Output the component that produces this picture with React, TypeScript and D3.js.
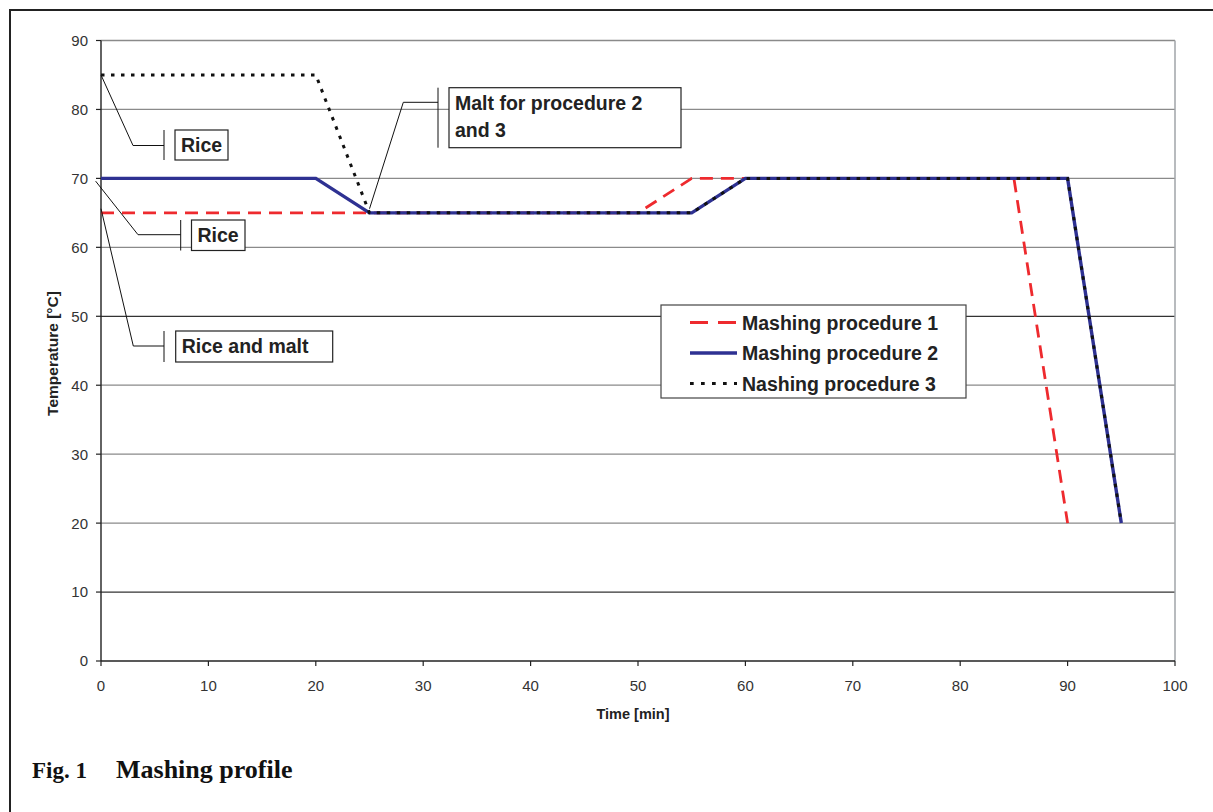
import React from "react";
import * as d3 from "d3";

const time1 = [0, 25, 50, 55, 60, 85, 90];
const temp1 = [65, 65, 65, 70, 70, 70, 20];
const time2 = [0, 20, 25, 55, 60, 90, 95];
const temp2 = [70, 70, 65, 65, 70, 70, 20];
const time3 = [0, 20, 25, 55, 60, 90, 95];
const temp3 = [85, 85, 65, 65, 70, 70, 20];

const seriesNames = ["Mashing procedure 1", "Mashing procedure 2", "Nashing procedure 3"];
const xTicks = [0, 10, 20, 30, 40, 50, 60, 70, 80, 90, 100];
const yTicks = [0, 10, 20, 30, 40, 50, 60, 70, 80, 90];

const annotationTexts = [["Rice"], ["Rice"], ["Rice and malt"], ["Malt for procedure 2", "and 3"]];
const annotationAnchors = [
  { t: 0, v: 85 },
  { t: -0.5, v: 69.6 },
  { t: 0, v: 65.6 },
  { t: 25, v: 65.6 },
];

const W = 1213;
const H = 812;
const x = d3.scaleLinear().domain([0, 100]).range([101, 1175]);
const y = d3.scaleLinear().domain([0, 90]).range([661, 40.5]);

const SANS = "'Liberation Sans', Arial, Helvetica, sans-serif";
const SERIF = "'Liberation Serif', 'Times New Roman', serif";

type Pt = [number, number];

export default function App() {
  const line = d3
    .line<Pt>()
    .x((d) => x(d[0]))
    .y((d) => y(d[1]));
  const s1: Pt[] = time1.map((t, i) => [t, temp1[i]]);
  const s2: Pt[] = time2.map((t, i) => [t, temp2[i]]);
  const s3: Pt[] = time3.map((t, i) => [t, temp3[i]]);

  const styles = [
    { stroke: "#ee2a2e", width: 2.8, dash: "13,8" },
    { stroke: "#2e3192", width: 3.4, dash: undefined as string | undefined },
    { stroke: "#111", width: 3, dash: "3.5,6.5" },
  ];

  const annLayout = [
    { ex: 133, ey: 145.5, bx: 164, box: [175, 130, 228, 160] },
    { ex: 138, ey: 234.7, bx: 180.7, box: [191.5, 220, 245, 250.5] },
    { ex: 133.3, ey: 346, bx: 164, box: [175.7, 331, 332.7, 362] },
    { ex: 403.3, ey: 102.3, bx: 438, box: [449, 87.7, 681, 147.7] },
  ];

  const gridColor = (v: number) => (v === 50 || v === 10 ? "#333" : "#8a8a8a");

  return (
    <svg
      width={W}
      height={H}
      style={{ position: "absolute", left: 0, top: 0, background: "#fff" }}
      fontFamily={SANS}
    >
      <rect x={0} y={0} width={W} height={H} fill="#fff" />
      <rect x={10} y={10} width={W + 20} height={H + 20} fill="none" stroke="#222" strokeWidth={2} />

      {yTicks
        .filter((v) => v > 0)
        .map((v) => (
          <line key={"g" + v} x1={x(0)} x2={x(100)} y1={y(v)} y2={y(v)} stroke={gridColor(v)} strokeWidth={1.3} />
        ))}
      <line x1={x(100)} x2={x(100)} y1={y(90)} y2={y(0)} stroke="#a0a4a8" strokeWidth={1.5} />

      <line x1={x(0)} x2={x(0)} y1={y(90)} y2={y(0)} stroke="#222" strokeWidth={1.4} />
      <line x1={x(0)} x2={x(100)} y1={y(0)} y2={y(0)} stroke="#222" strokeWidth={1.4} />
      {yTicks.map((v) => (
        <g key={"yt" + v}>
          <line x1={x(0) - 5} x2={x(0)} y1={y(v)} y2={y(v)} stroke="#222" strokeWidth={1.2} />
          <text x={88} y={y(v)} dy="0.36em" textAnchor="end" fontSize={15} fill="#333">
            {v}
          </text>
        </g>
      ))}
      {xTicks.map((t) => (
        <g key={"xt" + t}>
          <line x1={x(t)} x2={x(t)} y1={y(0)} y2={y(0) + 5} stroke="#222" strokeWidth={1.2} />
          <text x={x(t)} y={690.5} textAnchor="middle" fontSize={15} fill="#333">
            {t}
          </text>
        </g>
      ))}
      <text x={633} y={719} textAnchor="middle" fontSize={14.5} fontWeight="bold" fill="#222">
        Time [min]
      </text>
      <text
        transform={`translate(58,353.5) rotate(-90)`}
        textAnchor="middle"
        fontSize={15.5}
        fontWeight="bold"
        fill="#222"
      >
        Temperature [°C]
      </text>

      {[s1, s2, s3].map((s, i) => (
        <path
          key={"s" + i}
          d={line(s) || ""}
          fill="none"
          stroke={styles[i].stroke}
          strokeWidth={styles[i].width}
          strokeDasharray={styles[i].dash}
          strokeLinejoin="miter"
        />
      ))}

      {annotationTexts.map((lines, i) => {
        const a = annotationAnchors[i];
        const L = annLayout[i];
        const [bx0, by0, bx1, by1] = L.box;
        return (
          <g key={"a" + i}>
            <polyline
              points={`${x(a.t)},${y(a.v)} ${L.ex},${L.ey} ${L.bx},${L.ey}`}
              fill="none"
              stroke="#111"
              strokeWidth={1}
            />
            <line x1={L.bx} x2={L.bx} y1={by0} y2={by1} stroke="#111" strokeWidth={1} />
            <rect x={bx0} y={by0} width={bx1 - bx0} height={by1 - by0} fill="#fff" stroke="#222" strokeWidth={1.2} />
            {lines.map((ln, j) => (
              <text
                key={j}
                x={bx0 + 6}
                y={by0 + 22 + j * 27}
                fontSize={19.5}
                fontWeight="bold"
                fill="#222"
              >
                {ln}
              </text>
            ))}
          </g>
        );
      })}

      <rect x={661} y={305} width={305} height={93} fill="#fff" stroke="#444" strokeWidth={1.2} />
      {seriesNames.map((n, i) => {
        const cy = 322.5 + i * 30.5;
        return (
          <g key={"l" + i}>
            <line
              x1={690}
              x2={737}
              y1={cy}
              y2={cy}
              stroke={styles[i].stroke}
              strokeWidth={styles[i].width}
              strokeDasharray={i === 0 ? "18,10" : i === 2 ? "3.7,7.3" : undefined}
            />
            <text x={742} y={cy} dy="0.36em" fontSize={19.5} fontWeight="bold" fill="#222">
              {n}
            </text>
          </g>
        );
      })}

      <text x={32} y={778} fontFamily={SERIF} fontSize={23} fontWeight="bold" fill="#111">
        Fig. 1
      </text>
      <text x={116} y={778} fontFamily={SERIF} fontSize={26} fontWeight="bold" fill="#111">
        Mashing profile
      </text>
    </svg>
  );
}
